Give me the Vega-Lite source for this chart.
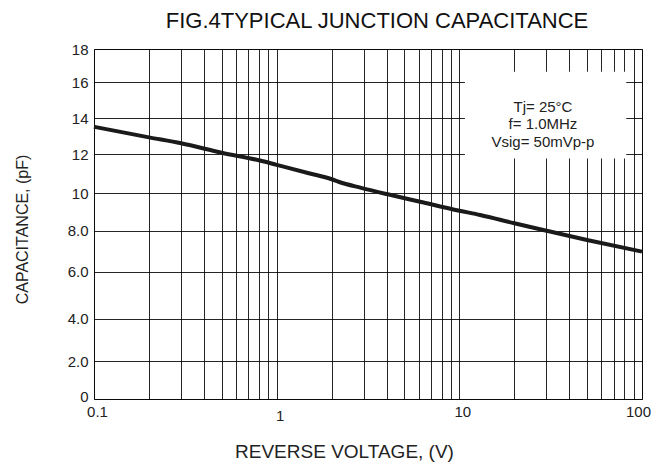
{
  "$schema": "https://vega.github.io/schema/vega-lite/v6.json",
  "width": 548,
  "height": 350,
  "autosize": "none",
  "padding": {"left": 94, "top": 49, "right": 24, "bottom": 66},
  "background": "white",
  "config": {
    "font": "Liberation Sans",
    "view": {"stroke": "#444", "strokeWidth": 1}
  },
  "title": {
    "text": "FIG.4TYPICAL JUNCTION CAPACITANCE",
    "font": "Liberation Sans",
    "fontSize": 22,
    "fontWeight": "normal",
    "color": "#111",
    "anchor": "middle",
    "baseline": "alphabetic",
    "offset": 22,
    "dx": 9,
    "dy": 30
  },
  "datasets": {
    "curve": [
      {"v": 0.1, "c": 13.53},
      {"v": 0.2, "c": 12.94},
      {"v": 0.3, "c": 12.61},
      {"v": 0.5, "c": 12.09},
      {"v": 0.82, "c": 11.67},
      {"v": 1.0, "c": 11.46},
      {"v": 1.5, "c": 11.03},
      {"v": 2.0, "c": 10.72},
      {"v": 2.2, "c": 10.58},
      {"v": 2.9, "c": 10.28},
      {"v": 4.0, "c": 9.96},
      {"v": 6.1, "c": 9.55},
      {"v": 10, "c": 9.07},
      {"v": 13, "c": 8.84},
      {"v": 20, "c": 8.4},
      {"v": 30, "c": 8.0},
      {"v": 50, "c": 7.55},
      {"v": 100, "c": 6.98}
    ],
    "box": [
      {"x1": 10.73, "x2": 82, "y1": 16.64, "y2": 11.79}
    ],
    "notes": [
      {"label": "Tj= 25°C", "v": 28.7, "c": 14.37},
      {"label": "f= 1.0MHz", "v": 28.7, "c": 13.39},
      {"label": "Vsig= 50mVp-p", "v": 28.7, "c": 12.42}
    ]
  },
  "layer": [
    {
      "data": {"name": "curve"},
      "mark": {"type": "line", "color": "#1a1a1a", "strokeWidth": 4, "interpolate": "monotone"},
      "encoding": {
        "x": {
          "field": "v",
          "type": "quantitative",
          "scale": {"type": "log", "domain": [0.1, 100], "nice": false},
          "axis": {
            "title": "REVERSE VOLTAGE, (V)",
            "titleFont": "Liberation Sans",
            "titleFontSize": 19,
            "titleFontWeight": "normal",
            "titleColor": "#222",
            "titleX": 250,
            "titleY": 58,
            "titleBaseline": "alphabetic",
            "titleAlign": "center",
            "tickCount": 100,
            "values": [0.1, 0.2, 0.3, 0.4, 0.5, 0.6, 0.7, 0.8, 0.9, 1, 2, 3, 4, 5, 6, 7, 8, 9, 10, 20, 30, 40, 50, 60, 70, 80, 90, 100],
            "labelExpr": "datum.value == 0.1 ? '0.1' : datum.value == 1 ? '1' : datum.value == 10 ? '10' : datum.value == 100 ? '100' : ''",
            "labelOverlap": false,
            "labelFlush": false,
            "labelFontSize": 15,
            "labelColor": "#222",
            "labelBaseline": "alphabetic",
            "labelPadding": {"condition": {"test": "datum.value == 1", "value": 21}, "value": 17},
            "labelOffset": {"condition": {"test": "datum.value == 100", "value": -4}, "value": 3},
            "ticks": false,
            "tickSize": 0,
            "domain": false,
            "grid": true,
            "gridColor": "#000",
            "gridOpacity": 0.85,
            "gridWidth": 1
          }
        },
        "y": {
          "field": "c",
          "type": "quantitative",
          "scale": {
            "type": "linear",
            "domain": [0, 2, 4, 6, 8, 10, 12, 14, 16, 18],
            "range": [350, 312.3, 269.7, 222.7, 181.7, 144.3, 105.3, 69.3, 33.3, 0],
            "nice": false,
            "zero": false
          },
          "axis": {
            "title": "CAPACITANCE, (pF)",
            "titleFont": "Liberation Sans",
            "titleFontSize": 16,
            "titleFontWeight": "normal",
            "titleColor": "#222",
            "titleX": -67,
            "titleY": 180,
            "titleAngle": -90,
            "titleBaseline": "alphabetic",
            "titleAlign": "center",
            "tickCount": 100,
            "values": [0, 2, 4, 6, 8, 10, 12, 14, 16, 18],
            "labelExpr": "datum.value >= 10 ? format(datum.value, 'd') : datum.value == 0 ? '0' : format(datum.value, '.1f')",
            "labelOverlap": false,
            "labelFlush": false,
            "labelFontSize": 15,
            "labelColor": "#222",
            "labelPadding": 6,
            "labelOffset": {"condition": {"test": "datum.value == 0", "value": -3}, "value": 0},
            "ticks": false,
            "tickSize": 0,
            "domain": false,
            "grid": true,
            "gridColor": "#000",
            "gridOpacity": 0.85,
            "gridWidth": 1
          }
        }
      }
    },
    {
      "data": {"name": "box"},
      "mark": {"type": "rect", "color": "white", "opacity": 1},
      "encoding": {
        "x": {"field": "x1", "type": "quantitative"},
        "x2": {"field": "x2"},
        "y": {"field": "y1", "type": "quantitative"},
        "y2": {"field": "y2"}
      }
    },
    {
      "data": {"name": "notes"},
      "mark": {"type": "text", "font": "Liberation Sans", "fontSize": 15, "color": "#222", "align": "center", "baseline": "alphabetic"},
      "encoding": {
        "x": {"field": "v", "type": "quantitative"},
        "y": {"field": "c", "type": "quantitative"},
        "text": {"field": "label"}
      }
    }
  ]
}
